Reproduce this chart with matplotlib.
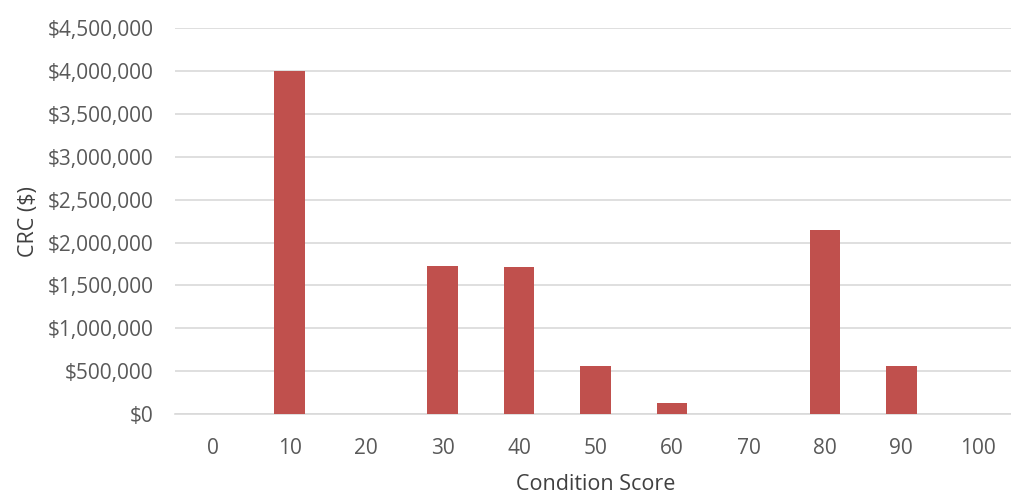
import numpy as np
import matplotlib.pyplot as plt
from matplotlib.ticker import FuncFormatter

scores = [0, 10, 20, 30, 40, 50, 60, 70, 80, 90, 100]
crc = [0, 4000000, 0, 1728000, 1710000, 563000, 125000, 0, 2152000, 563000, 0]

plt.rcParams['font.family'] = ['Open Sans', 'DejaVu Sans']

fig = plt.figure(figsize=(10.12, 4.95), dpi=100)
ax = fig.add_axes([0.173, 0.1636, 0.831, 0.7794])

x = np.arange(len(scores))
ax.bar(x, crc, width=0.4, color='#C0504D', zorder=3)

ax.set_xlim(-0.5, len(scores) - 0.5)
ax.set_ylim(0, 4500000)
ax.set_yticks(np.arange(0, 4500001, 500000))
ax.yaxis.set_major_formatter(FuncFormatter(lambda v, p: '${:,.0f}'.format(v)))
ax.set_xticks(x)
ax.set_xticklabels([str(s) for s in scores])

ax.grid(axis='y', color='#D9D9D9', linewidth=1.2, zorder=0)
for side in ['top', 'right', 'left']:
    ax.spines[side].set_visible(False)
ax.spines['bottom'].set_color('#D9D9D9')
ax.spines['bottom'].set_linewidth(1.2)
ax.tick_params(axis='both', length=0, labelsize=15, colors='#595959')
ax.tick_params(axis='y', pad=15.5)
ax.tick_params(axis='x', pad=17)

ax.set_xlabel('Condition Score', fontsize=15.5, color='#404040', labelpad=11)
ax.set_ylabel('CRC ($)', fontsize=15.5, color='#404040', labelpad=6)

fig.savefig('out.png', dpi=100)
